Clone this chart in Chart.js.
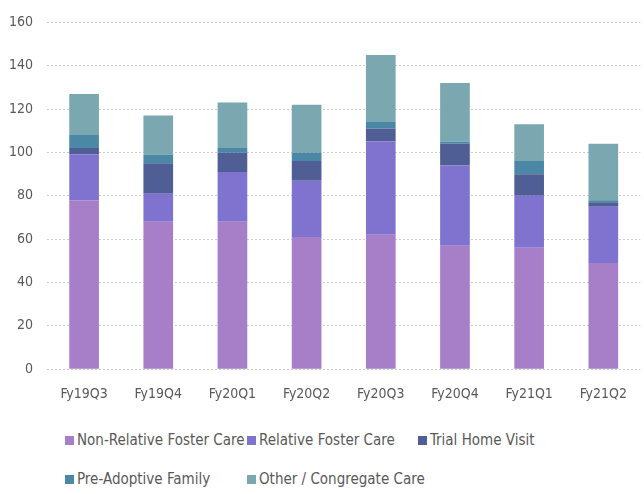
<!DOCTYPE html>
<html>
<head>
<meta charset="utf-8">
<script src="https://cdn.jsdelivr.net/npm/chart.js"></script>
<style>
  html, body { margin: 0; padding: 0; background: #fff; }
  #wrap { position: relative; width: 644px; height: 494px; font-family: "Liberation Sans Narrow", "DejaVu Sans Condensed", sans-serif; }
  #box { position: absolute; left: 0; top: 0; width: 644px; height: 424px; }
  #legend { position: absolute; left: 0; top: 431px; width: 644px; }
  .item { position: absolute; font-size: 15px; color: #595959; white-space: nowrap; line-height: 18px; }
  .item i { display: inline-block; width: 9px; height: 9px; margin-right: 3px; vertical-align: 0px; }
</style>
</head>
<body>
<div id="wrap">
  <div id="box"><canvas id="c"></canvas></div>
  <div id="legend"></div>
</div>
<script>
// quarters on the x axis
const quarters = ['Fy19Q3', 'Fy19Q4', 'Fy20Q1', 'Fy20Q2', 'Fy20Q3', 'Fy20Q4', 'Fy21Q1', 'Fy21Q2'];

// placement counts per quarter, stacked bottom to top
const nonRelative = [78, 68, 68, 61, 62, 57, 56, 49];
const relative    = [21, 13, 23, 26, 43, 37, 24, 26];
const trialHome   = [3, 14, 9, 9, 6, 10, 10, 2];
const preAdoptive = [6, 4, 2, 4, 3, 1, 6, 1];
const congregate  = [19, 18, 21, 22, 31, 27, 17, 26];

const seriesNames = ['Non-Relative Foster Care', 'Relative Foster Care', 'Trial Home Visit',
                     'Pre-Adoptive Family', 'Other / Congregate Care'];
const yTicks = [0, 20, 40, 60, 80, 100, 120, 140, 160];

const colors = ['#a67fc8', '#7f73cf', '#4f5e95', '#4a88a6', '#7aa7b0'];
const font = '"Liberation Sans Narrow", "DejaVu Sans Condensed", sans-serif';

const series = [nonRelative, relative, trialHome, preAdoptive, congregate];
const datasets = series.map((d, i) => ({
    label: seriesNames[i],
    data: d,
    backgroundColor: colors[i],
    borderWidth: 0,
    categoryPercentage: 1,
    barPercentage: 0.4
}));

const chart = new Chart(document.getElementById('c').getContext('2d'), {
    type: 'bar',
    data: { labels: quarters, datasets: datasets },
    options: {
        responsive: true,
        maintainAspectRatio: false,
        animation: false,
        layout: { padding: { top: 2, right: 0, bottom: 4, left: 0 } },
        plugins: { legend: { display: false }, tooltip: { enabled: false } },
        scales: {
            x: {
                stacked: true,
                grid: { display: false, drawTicks: false },
                border: { display: false },
                ticks: { color: '#595959', font: { family: font, size: 14 }, padding: 17 }
            },
            y: {
                stacked: true,
                min: 0, max: 160,
                afterFit: s => { s.width = 47; },
                afterBuildTicks: s => { s.ticks = yTicks.map(v => ({ value: v })); },
                grid: { color: '#cccccc', drawTicks: false, lineWidth: 1 },
                border: { display: false, dash: [2, 2] },
                ticks: { color: '#595959', font: { family: font, size: 14 }, padding: 14 }
            }
        }
    }
});

// legend laid out in columns like the original
const legendPos = [[65, 0], [247, 0], [418, 0], [65, 39], [247, 39]];
const legend = document.getElementById('legend');
chart.data.datasets.forEach((ds, i) => {
    const el = document.createElement('div');
    el.className = 'item';
    el.style.left = legendPos[i][0] + 'px';
    el.style.top = legendPos[i][1] + 'px';
    el.innerHTML = '<i style="background:' + ds.backgroundColor + '"></i>' + ds.label;
    legend.appendChild(el);
});
</script>
</body>
</html>
